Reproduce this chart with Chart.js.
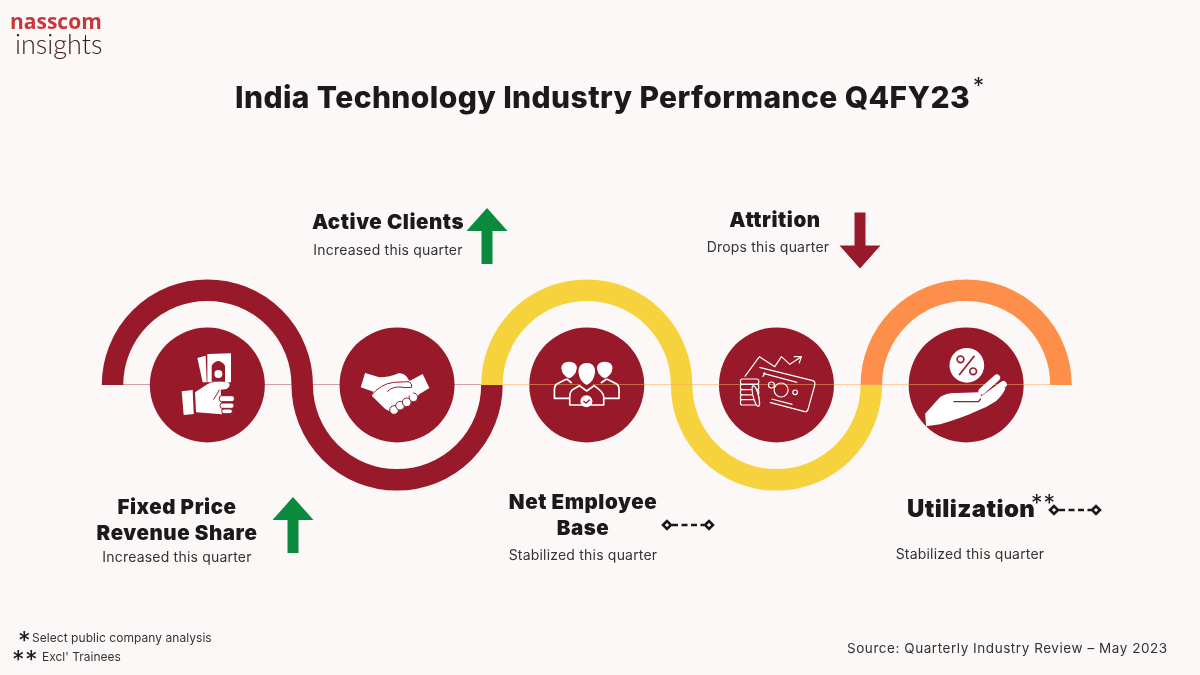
<!DOCTYPE html>
<html>
<head>
<meta charset="utf-8">
<script src="https://cdn.jsdelivr.net/npm/chart.js@4"></script>
<style>
  html, body { margin: 0; padding: 0; background: #fcf8f7; }
  #page { position: relative; width: 1200px; height: 675px; overflow: hidden; color: #1a1a1a; font-family: Inter, sans-serif; }
  canvas { position: absolute; left: 0; top: 0; }
  .txt { position: absolute; white-space: nowrap; line-height: 1; }
  .mid { transform: translate(-50%, -50%); }
  .left { transform: translateY(-50%); }
  .head { font-weight: 900; font-size: 20.5px; letter-spacing: 0.55px; }
  .note { font-size: 14px; letter-spacing: 0.2px; color: #333; }
</style>
</head>
<body>
<div id="page">
  <canvas id="chart" width="1200" height="675"></canvas>
</div>
<script>
const categories = ["Fixed Price Revenue Share", "Active Clients", "Net Employee Base", "Attrition", "Utilization"];
const headLines = [["Fixed Price", "Revenue Share"], ["Active Clients"], ["Net Employee", "Base"], ["Attrition"], ["Utilization"]];
const notes = ["Increased this quarter", "Increased this quarter", "Stabilized this quarter", "Drops this quarter", "Stabilized this quarter"];
const trends = [1, 1, 0, -1, 0];
const levels = [0, 0, 0, 0, 0];

// layout of the texts and trend marks, kept apart from the data
const headSpots = [[177, 507], [388, 222], [583, 502], [775, 220], [970, 509]];
const noteSpots = [[177, 557], [388, 250], [583, 555], [768, 247], [970, 554]];
const trendSpots = [[293, 525], [487, 236], [688, 525], [860, 240.5], [1075, 510]];

const RED = "#98192a";
const YELLOW = "#f6d33c";
const ORANGE = "#fd8f4b";
const GREEN = "#0b8a3e";
const waveColors = [RED, RED, YELLOW, YELLOW, ORANGE];

const page = document.getElementById("page");

function addText(text, x, y, cls, style) {
    const el = document.createElement("div");
    el.className = "txt " + cls;
    el.textContent = text;
    el.style.left = x + "px";
    el.style.top = y + "px";
    Object.assign(el.style, style || {});
    page.appendChild(el);
    return el;
}

// icons are traced in 3x zoom units around the circle centre
const icons = [
    function hand(c) {
        c.fillStyle = "#fff";
        c.fill(new Path2D("M-30 -81 L-5 -88 L-2 -8 L-14 -8 Z"));
        c.fill(new Path2D("M0 -93 L71 -95 L71 -8 L0 -8 Z"));
        c.fillStyle = RED;
        c.fill(new Path2D("M13 -10 L13 -58 Q32 -86 53 -58 L53 -10 Z"));
        c.fillStyle = "#fff";
        c.beginPath(); c.arc(33, -33, 12, 0, Math.PI * 2); c.fill();
        c.fill(new Path2D("M-77 19 L-44 15 L-41 87 L-71 90 Z"));
        c.fill(new Path2D("M-37 22 L-7 2 Q13 -15 63 -8 Q73 2 58 12 L40 14 L44 88 L-34 82 Z"));
        c.strokeStyle = RED; c.lineWidth = 3;
        c.stroke(new Path2D("M36 14 Q28 30 18 44"));
        c.fillStyle = "#fff";
        [[36, 32, 45, 18], [38, 54, 42, 16], [43, 72, 32, 14]].forEach(f => {
            c.beginPath(); c.roundRect(f[0], f[1], f[2], f[3], 7); c.fill();
            c.stroke();
        });
    },
    function handshake(c) {
        c.fillStyle = "#fff";
        c.fill(new Path2D("M-96 -36 L-53 -23 Q-21 -23 4 -35 Q24 -38 35 -15 L39 -13 L77 -33 L97 9 L64 29 L64 32 Q39 57 4 77 Q-21 87 -41 67 L-76 32 L-71 20 L-109 7 Z"));
        c.strokeStyle = RED;
        [[-9, 75], [9, 62], [29, 52], [49, 37]].forEach(f => {
            c.beginPath(); c.arc(f[0], f[1], 13, 0, Math.PI * 2);
            c.fillStyle = "#fff"; c.fill();
            c.lineWidth = 3; c.stroke();
        });
        c.fill(new Path2D("M-20 60 L50 25 L30 -5 L-50 20 Z"));
        c.lineWidth = 3;
        c.stroke(new Path2D("M-78 32 Q-50 -3 -10 -8 L36 -10 Q46 -2 44 7 L24 8 Q-10 0 -30 20"));
    },
    function people(c) {
        c.fillStyle = "#fff"; c.strokeStyle = "#fff"; c.lineWidth = 5; c.lineJoin = "round";
        c.fill(new Path2D("M-76 -50 Q-76 -70 -53 -70 Q-30 -70 -30 -50 Q-32 -28 -53 -20 Q-74 -28 -76 -50 Z"));
        c.fill(new Path2D("M31 -50 Q31 -70 54 -70 Q77 -70 77 -50 Q75 -28 54 -20 Q33 -28 31 -50 Z"));
        c.stroke(new Path2D("M-60 -18 L-90 -3 Q-97 2 -97 15 L-97 40 L-52 40 M60 -18 L90 -3 Q97 2 97 15 L97 40 L52 40"));
        c.stroke(new Path2D("M-60 -18 L-45 -6 M60 -18 L42 -6"));
        c.fillStyle = RED;
        c.beginPath(); c.ellipse(0, -33, 30, 39, 0, 0, Math.PI * 2); c.fill();
        c.fillStyle = "#fff";
        c.fill(new Path2D("M-25 -40 Q-25 -66 0 -66 Q25 -66 25 -40 Q23 -12 0 0 Q-23 -12 -25 -40 Z"));
        c.stroke(new Path2D("M-22 2 L-44 15 Q-51 22 -51 35 L-51 60 L51 60 L51 35 Q51 22 22 2 L0 18 Z"));
        c.beginPath(); c.arc(-1, 49, 18, 0, Math.PI * 2); c.fill();
        c.strokeStyle = RED; c.lineWidth = 4;
        c.stroke(new Path2D("M-10 48 L-2 54 L9 44"));
    },
    function money(c) {
        c.strokeStyle = "#fff"; c.lineWidth = 3.5; c.lineJoin = "round";
        c.stroke(new Path2D("M-51 -53 L109 -13 Q117 -10 115 0 L95 72 Q92 82 85 80 L-20 52"));
        c.stroke(new Path2D("M-40 -35 L62 -8 M48 58 L-15 42 M-35 -38 Q-35 -30 -42 -25"));
        c.stroke(new Path2D("M-95 -25 L-51 -85 L-5 -55 L15 -85 L40 -62 L75 -85 M52 -85 L75 -85 L68 -65"));
        [[14, 15, 21], [-15, 0, 9], [56, 22, 7]].forEach(f => {
            c.beginPath(); c.arc(f[0], f[1], f[2], 0, Math.PI * 2); c.stroke();
        });
        c.fillStyle = RED;
        [-12, 4, 20, 36, 50].forEach(y => {
            c.beginPath(); c.roundRect(-108, y - 6, 55, 16, 6); c.fill(); c.stroke();
        });
        c.beginPath(); c.ellipse(-62, 33, 8, 32, -0.25, 0, Math.PI * 2); c.fill(); c.stroke();
    },
    function percent(c) {
        c.fillStyle = "#fff";
        c.beginPath(); c.arc(2, -59, 52, 0, Math.PI * 2); c.fill();
        c.strokeStyle = RED; c.lineWidth = 5;
        c.beginPath(); c.arc(-17, -77, 10, 0, Math.PI * 2); c.stroke();
        c.beginPath(); c.arc(21, -41, 10, 0, Math.PI * 2); c.stroke();
        c.stroke(new Path2D("M25 -88 L-21 -30"));
        c.fill(new Path2D("M-123 86 L-78 36 Q-56 22 -28 24 L37 22 Q49 27 42 42 L56 44 L112 8 L118 10 Q110 30 90 48 L60 66 L37 76 Q-6 97 -78 118 L-120 124 Z"));
        c.strokeStyle = "#fff"; c.lineWidth = 20; c.lineCap = "round";
        c.stroke(new Path2D("M47 19 L92 -22"));
        c.stroke(new Path2D("M52 41 L112 -2"));
        c.strokeStyle = RED; c.lineWidth = 4; c.lineCap = "butt";
        c.stroke(new Path2D("M-38 50 L37 50 L44 41"));
    }
];

function drawTrend(c, trend, x, y) {
    c.save();
    c.translate(x, y);
    if (trend === 0) {
        c.strokeStyle = "#1a1a1a";
        c.lineWidth = 2.6;
        c.beginPath();
        c.setLineDash([6, 3.5]);
        c.moveTo(-16, 0); c.lineTo(16, 0);
        c.stroke();
        c.setLineDash([]);
        [-21, 21].forEach(dx => {
            c.beginPath();
            c.moveTo(dx - 4, 0); c.lineTo(dx, -4); c.lineTo(dx + 4, 0); c.lineTo(dx, 4);
            c.closePath();
            c.stroke();
        });
    } else {
        c.scale(1, trend);
        c.fillStyle = trend > 0 ? GREEN : RED;
        c.fill(new Path2D("M-5.5 28 L-5.5 -5 L-20.5 -5 L0 -28 L20.5 -5 L5.5 -5 L5.5 28 Z"));
    }
    c.restore();
}

const wavePlugin = {
    id: "wave",
    beforeDatasetsDraw(chart) {
        const c = chart.ctx;
        const xs = chart.scales.x;
        const base = chart.scales.y.getPixelForValue(0);
        const radius = (xs.getPixelForValue(1) - xs.getPixelForValue(0)) / 2;
        c.save();
        c.lineWidth = 21.5;
        categories.forEach((cat, i) => {
            c.strokeStyle = waveColors[i];
            c.beginPath();
            c.arc(xs.getPixelForValue(i), base, radius, Math.PI, 0, i % 2 === 1);
            c.stroke();
        });
        // faint rule under the first two circles
        c.lineWidth = 1;
        c.strokeStyle = "rgba(152,25,42,0.4)";
        c.beginPath();
        c.moveTo(xs.getPixelForValue(0) - radius, base - 0.5);
        c.lineTo(xs.getPixelForValue(2) - radius - 11, base - 0.5);
        c.stroke();
        c.restore();
    },
    afterDatasetsDraw(chart) {
        const c = chart.ctx;
        const xs = chart.scales.x;
        const base = chart.scales.y.getPixelForValue(0);
        const radius = (xs.getPixelForValue(1) - xs.getPixelForValue(0)) / 2;
        c.save();
        c.lineWidth = 1;
        c.strokeStyle = "rgba(250,170,90,0.55)";
        c.beginPath();
        c.moveTo(xs.getPixelForValue(2) - radius + 11, base - 0.5);
        c.lineTo(xs.getPixelForValue(4) + radius - 11, base - 0.5);
        c.stroke();
        c.restore();
        icons.forEach((icon, i) => {
            c.save();
            c.translate(xs.getPixelForValue(i), base);
            c.scale(1 / 3, 1 / 3);
            icon(c);
            c.restore();
        });
        trends.forEach((t, i) => drawTrend(c, t, trendSpots[i][0], trendSpots[i][1]));
    }
};

new Chart(document.getElementById("chart").getContext("2d"), {
    type: "line",
    data: {
        labels: categories,
        datasets: [{
            data: levels,
            showLine: false,
            clip: false,
            pointRadius: 57.5,
            pointHoverRadius: 57.5,
            pointBorderWidth: 0,
            pointBackgroundColor: RED
        }]
    },
    options: {
        responsive: false,
        animation: false,
        events: [],
        layout: { padding: { left: 112.5, right: 139, top: 279, bottom: 184 } },
        plugins: { legend: { display: false }, tooltip: { enabled: false } },
        scales: {
            x: { type: "category", offset: true, display: false },
            y: { min: -1, max: 1, display: false }
        }
    },
    plugins: [wavePlugin]
});

// texts
addText("nasscom", 10, 21, "left", { fontFamily: "'Open Sans'", fontWeight: 700, fontSize: "21px", color: "#c8363a" });
addText("insights", 15, 43, "left", { fontFamily: "Lato", fontWeight: 300, fontSize: "27px", color: "#3b1a24" });
addText("India Technology Industry Performance Q4FY23", 235, 97, "left", { fontWeight: 800, fontSize: "30px", letterSpacing: "0.4px" });
addText("*", 973, 85, "left", { fontSize: "22px" });

categories.forEach((cat, i) => {
    headLines[i].forEach((line, j) => {
        if (cat === "Utilization") {
            addText(line, 907, headSpots[i][1], "left", { fontWeight: 900, fontSize: "24px", letterSpacing: "0.4px" });
        } else {
            addText(line, headSpots[i][0], headSpots[i][1] + j * 26, "head mid");
        }
    });
    addText(notes[i], noteSpots[i][0], noteSpots[i][1], "note mid");
});
addText("**", 1031, 503, "left", { fontSize: "23px", letterSpacing: "1px" });

addText("*", 18, 641, "left", { fontSize: "25px" });
addText("Select public company analysis", 32, 638, "left", { fontSize: "12px", letterSpacing: "0.05px", color: "#333" });
addText("**", 12, 660, "left", { fontSize: "25px", letterSpacing: "0.5px" });
addText("Excl' Trainees", 42, 657, "left", { fontSize: "12px", letterSpacing: "0px", color: "#333" });
addText("Source: Quarterly Industry Review – May 2023", 847, 649, "left", { fontSize: "13.5px", letterSpacing: "0.55px", color: "#333" });
</script>
</body>
</html>
